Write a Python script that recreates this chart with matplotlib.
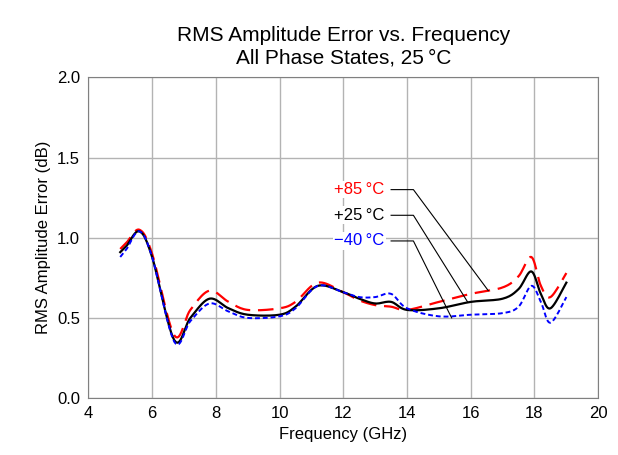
import numpy as np
import matplotlib
matplotlib.use("Agg")
import matplotlib.pyplot as plt

plt.rcParams["font.family"] = ["Liberation Sans", "DejaVu Sans"]

# data
freq = [5.0, 5.2, 5.6, 6.0, 6.7, 7.2, 7.8, 8.4, 9.0, 10.0, 10.5, 11.2, 12.0, 12.5, 13.0, 13.5, 14.0, 15.0, 16.0, 17.0, 17.5, 17.9, 18.2, 18.5, 19.0]
err_85 = [0.93, 0.97, 1.05, 0.90, 0.39, 0.55, 0.67, 0.60, 0.55, 0.56, 0.60, 0.72, 0.66, 0.61, 0.58, 0.57, 0.55, 0.60, 0.65, 0.69, 0.76, 0.88, 0.70, 0.63, 0.78]
err_25 = [0.91, 0.95, 1.04, 0.88, 0.36, 0.50, 0.62, 0.56, 0.52, 0.52, 0.57, 0.70, 0.66, 0.62, 0.59, 0.60, 0.55, 0.56, 0.60, 0.62, 0.68, 0.79, 0.65, 0.56, 0.72]
err_m40 = [0.88, 0.93, 1.04, 0.88, 0.35, 0.48, 0.59, 0.54, 0.50, 0.51, 0.56, 0.70, 0.66, 0.63, 0.63, 0.65, 0.56, 0.51, 0.52, 0.53, 0.57, 0.70, 0.60, 0.47, 0.63]


def smooth(x, y, n=12):
    # catmull-rom spline through the read points, for drawing only
    x = np.asarray(x); y = np.asarray(y)
    px = np.concatenate([[x[0]], x, [x[-1]]])
    py = np.concatenate([[y[0]], y, [y[-1]]])
    xs, ys = [], []
    t = np.linspace(0, 1, n, endpoint=False)
    for i in range(1, len(px) - 2):
        for p, out in ((px, xs), (py, ys)):
            p0, p1, p2, p3 = p[i - 1], p[i], p[i + 1], p[i + 2]
            out.extend(0.5 * (2 * p1 + (-p0 + p2) * t + (2 * p0 - 5 * p1 + 4 * p2 - p3) * t**2
                              + (-p0 + 3 * p1 - 3 * p2 + p3) * t**3))
    xs.append(x[-1]); ys.append(y[-1])
    return xs, ys


fig, ax = plt.subplots(figsize=(6.18, 4.55), dpi=100)
fig.subplots_adjust(left=0.143, right=0.968, top=0.83, bottom=0.125)

ax.plot(*smooth(freq, err_85), color="red", lw=1.6, dashes=(7, 3.5))
ax.plot(*smooth(freq, err_25), color="black", lw=1.6)
ax.plot(*smooth(freq, err_m40), color="blue", lw=1.4, dashes=(2.5, 1.5))

labels = [("+85\u2009°C", "red", 1.30, (16.55, 0.67)),
          ("+25\u2009°C", "black", 1.14, (15.9, 0.60)),
          ("\u221240\u2009°C", "blue", 0.98, (15.4, 0.50))]
for txt, col, yy, tip in labels:
    ax.plot([13.5, 14.2, tip[0]], [yy, yy, tip[1]], color="black", lw=0.8)
    ax.text(13.3, yy, txt, color=col, fontsize=12, ha="right", va="center",
            family=["Liberation Sans", "DejaVu Sans"],
            bbox=dict(facecolor="white", edgecolor="none", pad=1))

ax.set_xlim(4, 20)
ax.set_ylim(0, 2)
ax.set_xticks(range(4, 21, 2))
ax.set_yticks(np.arange(0, 2.01, 0.5))
ax.yaxis.set_major_formatter(matplotlib.ticker.FormatStrFormatter("%.1f"))
ax.grid(True, color="#b3b3b3", lw=1)
ax.set_axisbelow(True)
ax.tick_params(labelsize=12, length=0, pad=6)
for s in ax.spines.values():
    s.set_color("#808080")
ax.set_xlabel("Frequency (GHz)", fontsize=12)
ax.set_ylabel("RMS Amplitude Error (dB)", fontsize=12)
ax.set_title("RMS Amplitude Error vs. Frequency\nAll Phase States, 25\u2009°C", fontsize=15, pad=10,
             family=["Liberation Sans", "DejaVu Sans"])

plt.savefig("out.png", dpi=100)
